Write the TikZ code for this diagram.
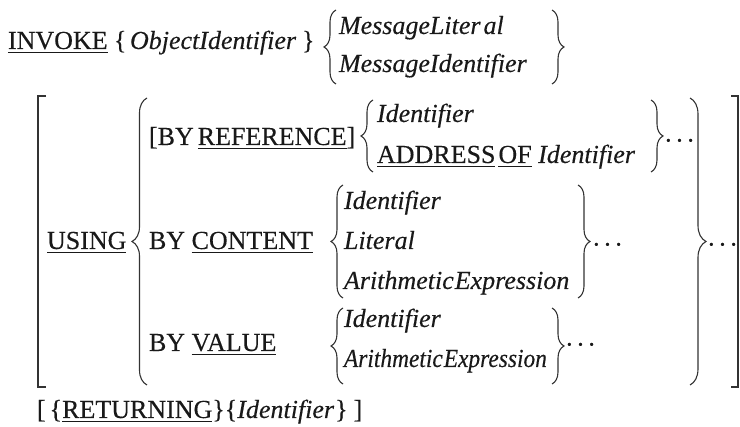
\documentclass[tikz,border=0pt]{standalone}
\usepackage{fontspec}
\setmainfont{Liberation Serif}[FakeBold=0.3]
\newfontfamily\narrowserif{Liberation Serif}[FakeStretch=0.9, FakeBold=0.3]
\usetikzlibrary{decorations.pathreplacing}
\newsavebox\ulbox
\newcommand\ulw[1]{\sbox\ulbox{#1}\rlap{\rule[-4pt]{\wd\ulbox}{1.3pt}}\usebox{\ulbox}}
\tikzset{
  txt/.style={anchor=base west, inner sep=0pt, outer sep=0pt, text=black!90, font=\fontsize{26}{30}\selectfont},
  itx/.style={txt, font=\fontsize{26}{30}\selectfont\itshape},
  nitx/.style={txt, font=\fontsize{26}{30}\selectfont\narrowserif\itshape},
  lbr/.style={decorate, decoration={brace, amplitude=#1}, line width=1.1pt, draw=black!80},
  rbr/.style={decorate, decoration={brace, amplitude=#1}, line width=1.1pt, draw=black!80},
  brk/.style={line width=1.1pt, draw=black!80}
}
\begin{document}
\begin{tikzpicture}[x=1pt, y=-1pt]
\useasboundingbox (0,0) rectangle (740,427);
% row 1
\node[txt] (invoke) at (8,49) {\ulw{INVOKE}};
\node[txt] (ob1) at (114,49) {\{};
\node[itx] (objid) at (130,49) {ObjectIdentifier};
\node[txt] (ob2) at (302,49) {\}};
\coordinate (m1t) at (336,10); \coordinate (m1b) at (336,84);
\draw[lbr=12] (m1b) -- (m1t);
\node[itx] (mlit) at (339,34) {MessageLiter\kern3pt al};
\node[itx] (mid) at (339,72) {MessageIdentifier};
\coordinate (m2t) at (552,10); \coordinate (m2b) at (552,84);
\draw[rbr=12] (m2t) -- (m2b);
% big brackets
\coordinate (bl1) at (46,96); \coordinate (bl2) at (38,96); \coordinate (bl3) at (38,387); \coordinate (bl4) at (46,387);
\draw[brk] (bl1) -- (bl2) -- (bl3) -- (bl4);
\coordinate (br1) at (731,96); \coordinate (br2) at (738,96); \coordinate (br3) at (738,387); \coordinate (br4) at (731,387);
\draw[brk] (br1) -- (br2) -- (br3) -- (br4);
% USING
\node[txt] (using) at (47,249) {\ulw{USING}};
\coordinate (ut) at (147,98); \coordinate (ub) at (147,385);
\draw[lbr=15] (ub) -- (ut);
% by reference
\node[txt] (byref) at (149,145) {[BY\kern4pt\ulw{REFERENCE}]};
\coordinate (r1t) at (373,100); \coordinate (r1b) at (373,172);
\draw[lbr=12] (r1b) -- (r1t);
\node[itx] (rid) at (377,122) {Identifier};
\node[txt] (raddr) at (377,163) {\ulw{ADDRESS}\kern3pt\ulw{OF} \textit{Identifier}};
\coordinate (r2t) at (651,100); \coordinate (r2b) at (651,172);
\draw[rbr=12] (r2t) -- (r2b);
\node[txt] (rdots) at (664,149) {·\kern2.5pt·\kern2.5pt·};
% by content
\node[txt] (bycont) at (149,249) {BY \ulw{CONTENT}};
\coordinate (c1t) at (343,185); \coordinate (c1b) at (343,298);
\draw[lbr=12] (c1b) -- (c1t);
\node[itx] (cid) at (344,209) {Identifier};
\node[itx] (clit) at (344,249) {Literal};
\node[itx] (cexp) at (344,289) {Arithmetic\kern1pt Expression};
\coordinate (c2t) at (578,185); \coordinate (c2b) at (578,298);
\draw[rbr=12] (c2t) -- (c2b);
\node[txt] (cdots) at (592,253) {·\kern2.5pt·\kern2.5pt·};
% by value
\node[txt] (byval) at (149,351) {BY \ulw{VALUE}};
\coordinate (v1t) at (343,308); \coordinate (v1b) at (343,384);
\draw[lbr=12] (v1b) -- (v1t);
\node[itx] (vid) at (344,327) {Identifier};
\node[nitx] (vexp) at (344,367) {Arithmetic\kern1pt Expression};
\coordinate (v2t) at (552,308); \coordinate (v2b) at (552,384);
\draw[rbr=12] (v2t) -- (v2b);
\node[txt] (vdots) at (565,353) {·\kern2.5pt·\kern2.5pt·};
% big right brace
\coordinate (bbt) at (690,98); \coordinate (bbb) at (690,385);
\draw[rbr=16] (bbt) -- (bbb);
\node[txt] (bdots) at (707,253) {·\kern2.5pt·\kern2.5pt·};
% returning
\node[txt] (ret) at (37,418) {[\kern4pt\{\ulw{RETURNING}\}\{\textit{Identifier}\kern1pt\}\kern6pt]};
\end{tikzpicture}
\end{document}
